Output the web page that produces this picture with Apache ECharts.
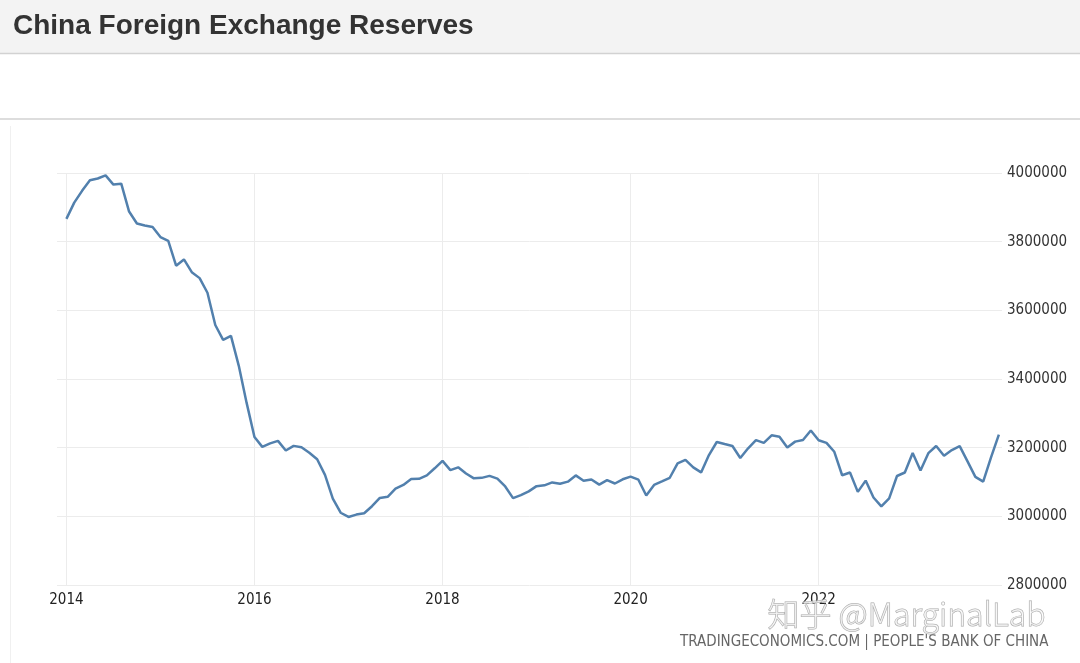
<!DOCTYPE html>
<html>
<head>
<meta charset="utf-8">
<script src="https://cdn.jsdelivr.net/npm/echarts@6/dist/echarts.min.js"></script>
<style>
html,body{margin:0;padding:0;background:#fff;}
#chart{width:1080px;height:663px;}
</style>
</head>
<body>
<div id="chart"></div>
<script>
// China foreign exchange reserves, monthly, Jan..Dec of each year
const years = [2014, 2015, 2016, 2017, 2018, 2019, 2020, 2021, 2022, 2023];
const reserves2014 = [3866400, 3913700, 3948100, 3978800, 3984000, 3993200, 3966300, 3968800, 3887700, 3852900, 3847300, 3843000];
const reserves2015 = [3813400, 3802500, 3730000, 3748200, 3711100, 3693800, 3651300, 3557400, 3514100, 3525500, 3438300, 3330400];
const reserves2016 = [3230900, 3202300, 3212600, 3219700, 3191700, 3205200, 3201100, 3185200, 3166400, 3120700, 3051600, 3010500];
const reserves2017 = [2998200, 3005100, 3009100, 3029500, 3053600, 3056800, 3080700, 3091500, 3108500, 3109200, 3119300, 3139900];
const reserves2018 = [3161500, 3134500, 3142800, 3124900, 3110600, 3112100, 3117900, 3109700, 3087000, 3053100, 3061700, 3072700];
const reserves2019 = [3087900, 3090200, 3098800, 3095000, 3101000, 3119200, 3103700, 3107200, 3092400, 3105200, 3095600, 3107900];
const reserves2020 = [3115500, 3106700, 3060600, 3091500, 3101700, 3112300, 3154400, 3164600, 3142600, 3127900, 3178500, 3216500];
const reserves2021 = [3210700, 3205000, 3170000, 3198200, 3221800, 3214000, 3235900, 3232100, 3200600, 3217600, 3222400, 3250200];
const reserves2022 = [3221600, 3213800, 3188000, 3119700, 3127800, 3071300, 3104100, 3054900, 3029000, 3052400, 3117500, 3127700];
const reserves2023 = [3184500, 3133200, 3183900, 3204800, 3176500, 3193000, 3204300, 3160000, 3115100, 3101200, 3171800, 3238000];
const yTicks = [2800000, 3000000, 3200000, 3400000, 3600000, 3800000, 4000000];
const xTickYears = [2014, 2016, 2018, 2020, 2022];

const byYear = [reserves2014, reserves2015, reserves2016, reserves2017, reserves2018,
                reserves2019, reserves2020, reserves2021, reserves2022, reserves2023];
const seriesData = [];
years.forEach((y, i) => {
  byYear[i].forEach((v, m) => seriesData.push([y + m / 12, v]));
});

const labelFont = "'DejaVu Sans Condensed', 'DejaVu Sans', sans-serif";

const chart = echarts.init(document.getElementById('chart'), null, {renderer: 'canvas'});
chart.setOption({
  animation: false,
  backgroundColor: '#ffffff',
  title: {
    text: 'China Foreign Exchange Reserves',
    left: 8, top: 7,
    textStyle: {fontFamily: "'Liberation Sans', Arial, sans-serif", fontSize: 28, fontWeight: 'bold', color: '#333333'}
  },
  graphic: [
    {type: 'rect', z: -10, shape: {x: 0, y: 0, width: 1080, height: 53}, style: {fill: '#f3f3f3'}},
    {type: 'line', z: -9, shape: {x1: 0, y1: 53.5, x2: 1080, y2: 53.5}, style: {stroke: '#d2d2d2', lineWidth: 1.5}},
    {type: 'line', z: -9, shape: {x1: 0, y1: 119, x2: 1080, y2: 119}, style: {stroke: '#dddddd', lineWidth: 2}},
    {type: 'line', z: -9, shape: {x1: 10.5, y1: 126, x2: 10.5, y2: 663}, style: {stroke: '#f0f0f0', lineWidth: 1}},
    {type: 'text', z: 50, left: 767, top: 597,
      style: {text: '知乎 @MarginalLab', fontFamily: "'Noto Sans CJK SC', 'Noto Sans', sans-serif", fontSize: 32, fontWeight: 300,
              fill: 'rgba(255,255,255,0.6)', stroke: '#a8a8a8', lineWidth: 1}},
    {type: 'text', z: 40, left: 680, top: 635,
      style: {text: "TRADINGECONOMICS.COM | PEOPLE'S BANK OF CHINA", fontFamily: labelFont, fontSize: 15, fill: '#666666'}}
  ],
  grid: {left: 57, right: 78, top: 173, bottom: 78, containLabel: false},
  xAxis: {
    type: 'value',
    min: 2013.9, max: 2023.95,
    axisLine: {show: false},
    axisTick: {show: false},
    axisLabel: {
      show: true, margin: 8, color: '#222222', fontSize: 15, fontFamily: labelFont,
      showMinLabel: false, showMaxLabel: false,
      formatter: v => (xTickYears.indexOf(Math.round(v * 1000) / 1000) >= 0 ? String(v) : '')
    },
    splitLine: {show: true, showMinLine: false, showMaxLine: false, lineStyle: {color: '#ececec', width: 1}}
  },
  yAxis: {
    type: 'value',
    position: 'right',
    min: yTicks[0], max: yTicks[yTicks.length - 1], interval: 200000,
    axisLine: {show: false},
    axisTick: {show: false},
    axisLabel: {margin: 5, color: '#333333', fontSize: 15, fontFamily: labelFont, formatter: v => String(v)},
    splitLine: {show: true, lineStyle: {color: '#ececec', width: 1}}
  },
  series: [{
    type: 'line',
    data: seriesData,
    showSymbol: false,
    symbol: 'none',
    smooth: false,
    lineStyle: {color: '#5280ad', width: 2.5},
    z: 5
  }]
});
</script>
</body>
</html>
